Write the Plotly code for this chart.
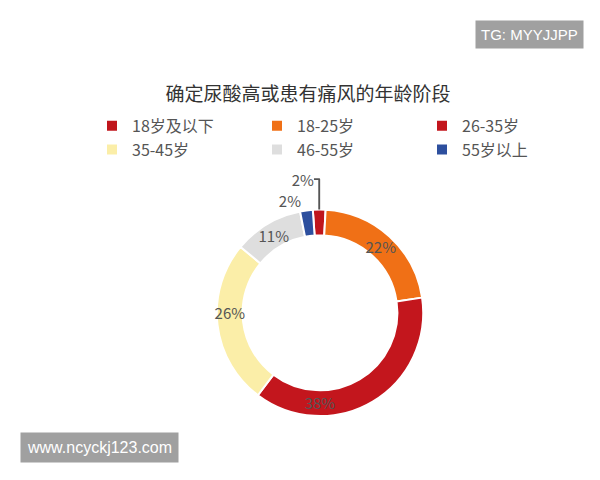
import plotly.graph_objects as go

labels = ["18岁及以下", "18-25岁", "26-35岁", "35-45岁", "46-55岁", "55岁以上"]
values = [2, 22, 38, 26, 11, 2]
colors = ["#c0161c", "#f07016", "#c3161d", "#fbeeA8", "#dedede", "#2d4f9e"]
positions = ["outside", "inside", "inside", "inside", "inside", "outside"]

fig = go.Figure(go.Pie(
    labels=labels, values=values, hole=0.75, sort=False,
    direction="clockwise", rotation=-4,
    marker=dict(colors=colors, line=dict(color="white", width=2)),
    texttemplate="%{value}%", textposition=positions,
    insidetextorientation="horizontal",
    textfont=dict(size=15, color="#555"),
    outsidetextfont=dict(size=15, color="#555"),
    domain=dict(x=[0.3, 0.74], y=[0.15, 0.58]),
))

fig.update_layout(
    width=600, height=480,
    margin=dict(l=0, r=0, t=0, b=0),
    paper_bgcolor="white",
    uniformtext=dict(minsize=15, mode="show"),
    font=dict(family="Noto Sans CJK SC", color="#444"),
    title=dict(text="确定尿酸高或患有痛风的年龄阶段", x=0.5, y=0.835,
               xanchor="center", font=dict(size=19, color="#333")),
    legend=dict(orientation="h", x=0.14, y=0.79, xanchor="left", yanchor="top",
                entrywidth=120, traceorder="normal", font=dict(size=16, color="#555")),
    annotations=[
        dict(text="TG: MYYJJPP", x=0.96, y=0.975, xref="paper", yref="paper",
             xanchor="right", yanchor="top", showarrow=False, bgcolor="#a0a0a0",
             font=dict(size=15, color="white", family="Liberation Sans"), borderpad=5),
        dict(text="www.ncyckj123.com", x=0.02, y=0.085, xref="paper", yref="paper",
             xanchor="left", yanchor="middle", showarrow=False, bgcolor="#a0a0a0",
             font=dict(size=16, color="white", family="Liberation Sans"), borderpad=6),
    ],
)
fig.write_html("out.html")
